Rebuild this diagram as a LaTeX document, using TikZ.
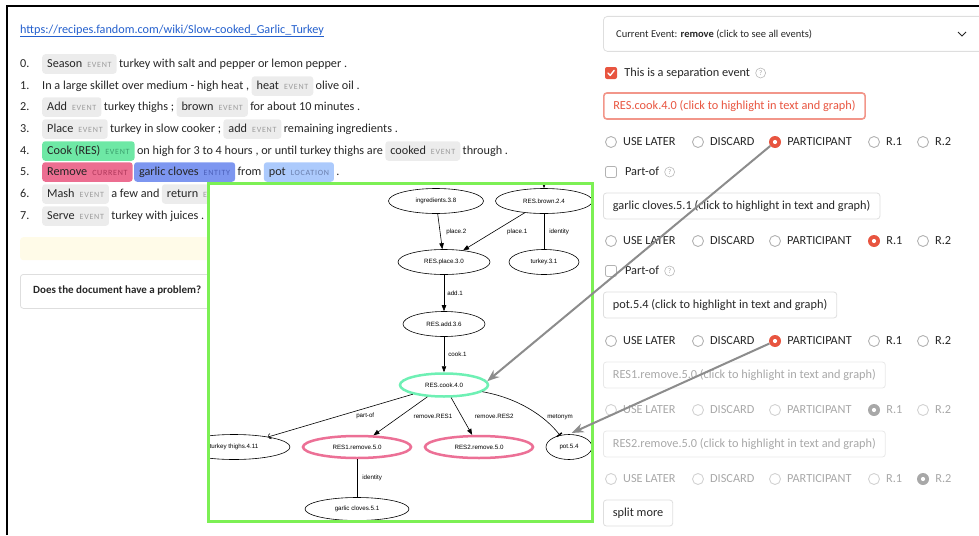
\documentclass[tikz,border=0pt]{standalone}
\usepackage{fontspec}
\setmainfont{Carlito}
\newfontfamily\graphfont{Liberation Sans}
\newfontfamily\tagfont[LetterSpace=9]{Carlito}
\usepackage{tikz}
\usetikzlibrary{shapes.geometric,arrows.meta,positioning}
\definecolor{TextDark}{RGB}{38,38,38}
\definecolor{LinkBlue}{RGB}{35,95,205}
\definecolor{ChipGray}{RGB}{236,236,236}
\definecolor{TagGray}{RGB}{155,155,155}
\definecolor{CookGreen}{RGB}{110,232,165}
\definecolor{TagGreen}{RGB}{60,160,110}
\definecolor{RemovePink}{RGB}{236,110,145}
\definecolor{TagPink}{RGB}{175,55,90}
\definecolor{EntityBlue}{RGB}{125,150,240}
\definecolor{TagBlue}{RGB}{75,95,185}
\definecolor{LocBlue}{RGB}{172,202,252}
\definecolor{TagLoc}{RGB}{105,125,170}
\definecolor{NoteYellow}{RGB}{255,251,232}
\definecolor{FrameGreen}{RGB}{124,240,84}
\definecolor{NodeGreen}{RGB}{110,240,180}
\definecolor{NodePink}{RGB}{236,112,150}
\definecolor{UiRed}{RGB}{232,85,64}
\definecolor{BoxSalmon}{RGB}{242,150,138}
\definecolor{PointerGray}{RGB}{140,140,140}
\definecolor{BorderGray}{RGB}{222,222,222}
\definecolor{FadeGray}{RGB}{168,168,168}
\newcommand{\wtag}[3][TagGray]{#2\hspace{5pt}{\tagfont\fontsize{8}{8}\selectfont\color{#1}#3}}
\newcommand{\uifont}{\fontsize{12.3}{15}\selectfont}

\begin{document}
\begin{tikzpicture}[
    x=1pt, y=-1pt,
    font=\fontsize{12.2}{15}\selectfont,
    num/.style={anchor=west, inner sep=0pt, text height=9.5pt, text depth=3pt, text=TextDark},
    txt/.style={inner xsep=0pt, inner ysep=3.5pt, text height=9.5pt, text depth=3pt, text=TextDark},
    tok/.style={fill=#1, rounded corners=3pt, inner xsep=5pt, inner ysep=3.5pt, text height=9.5pt, text depth=3pt, text=TextDark},
    tok/.default=ChipGray,
    panel/.style={rounded corners=3pt, minimum width=570pt, inner sep=0pt, anchor=north west},
    gnode/.style={ellipse, draw=black, line width=0.6pt, inner sep=0pt, minimum height=25pt, minimum width=#1, font=\graphfont\fontsize{6.2}{7}\selectfont},
    gedge/.style={draw=black, line width=0.6pt, -{Triangle[length=6pt,width=4.5pt]}},
    gline/.style={draw=black, line width=0.6pt},
    elabel/.style={font=\graphfont\fontsize{6.2}{7}\selectfont, inner sep=1pt},
    ui/.style={inner xsep=0pt, inner ysep=2pt, text height=9.5pt, text depth=3pt, text=TextDark, font=\uifont},
    itembox/.style={draw=BorderGray, line width=0.8pt, rounded corners=3pt, minimum height=26pt, inner xsep=9.5pt, anchor=west, text height=9.5pt, text depth=3pt, text=TextDark, font=\uifont},
    checkon/.style={fill=UiRed, rounded corners=2pt, minimum size=12pt, inner sep=0pt},
    checkoff/.style={draw=gray!60, line width=0.8pt, fill=white, rounded corners=2pt, minimum size=11pt, inner sep=0pt},
    help/.style={circle, draw=gray!55, line width=0.6pt, minimum size=10pt, inner sep=0pt, text=gray!75, font=\fontsize{7}{7}\selectfont},
    radio/.style={circle, draw=#1, line width=0.9pt, fill=white, minimum size=11pt, inner sep=0pt},
    radiosel/.style={circle, fill=#1, minimum size=12pt, inner sep=0pt, path picture={\fill[white] (path picture bounding box.center) circle (2.1pt);}},
    pointer/.style={draw=PointerGray, line width=2pt, -{Stealth[length=12pt,width=9pt]}}
]
\useasboundingbox (0,0) rectangle (979,535);
\draw[line width=1.2pt] (7,535) -- (7,6) -- (979,6);

% document text
\node[anchor=west, inner sep=0pt, text=LinkBlue] (url) at (20,31) {\underline{https://recipes.fandom.com/wiki/Slow-cooked\_Garlic\_Turkey}};

\node[num] (n0) at (20,64) {0.};
\node[tok, anchor=west] (s0a) at (42,64) {\wtag{Season}{EVENT}};
\node[txt, right=2pt of s0a] (s0b) {turkey with salt and pepper or lemon pepper .};

\node[num] (n1) at (20,86) {1.};
\node[txt, anchor=west] (s1a) at (42,86) {In a large skillet over medium - high heat ,};
\node[tok, right=2pt of s1a] (s1b) {\wtag{heat}{EVENT}};
\node[txt, right=2pt of s1b] (s1c) {olive oil .};

\node[num] (n2) at (20,107) {2.};
\node[tok, anchor=west] (s2a) at (42,107) {\wtag{Add}{EVENT}};
\node[txt, right=2pt of s2a] (s2b) {turkey thighs ;};
\node[tok, right=2pt of s2b] (s2c) {\wtag{brown}{EVENT}};
\node[txt, right=2pt of s2c] (s2d) {for about 10 minutes .};

\node[num] (n3) at (20,129) {3.};
\node[tok, anchor=west] (s3a) at (42,129) {\wtag{Place}{EVENT}};
\node[txt, right=2pt of s3a] (s3b) {turkey in slow cooker ;};
\node[tok, right=2pt of s3b] (s3c) {\wtag{add}{EVENT}};
\node[txt, right=2pt of s3c] (s3d) {remaining ingredients .};

\node[num] (n4) at (20,151) {4.};
\node[tok=CookGreen, anchor=west] (s4a) at (42,151) {\wtag[TagGreen]{Cook (RES)}{EVENT}};
\node[txt, right=2pt of s4a] (s4b) {on high for 3 to 4 hours , or until turkey thighs are};
\node[tok, right=2pt of s4b] (s4c) {\wtag{cooked}{EVENT}};
\node[txt, right=2pt of s4c] (s4d) {through .};

\node[num] (n5) at (20,172) {5.};
\node[tok=RemovePink, anchor=west] (s5a) at (42,172) {\wtag[TagPink]{Remove}{CURRENT}};
\node[tok=EntityBlue, right=1pt of s5a] (s5b) {\wtag[TagBlue]{garlic cloves}{ENTITY}};
\node[txt, right=2pt of s5b] (s5c) {from};
\node[tok=LocBlue, right=2pt of s5c] (s5d) {\wtag[TagLoc]{pot}{LOCATION}};
\node[txt, right=2pt of s5d] (s5e) {.};

\node[num] (n6) at (20,194) {6.};
\node[tok, anchor=west] (s6a) at (42,194) {\wtag{Mash}{EVENT}};
\node[txt, right=2pt of s6a] (s6b) {a few and};
\node[tok, right=2pt of s6b] (s6c) {\wtag{return}{EVENT}};

\node[num] (n7) at (20,216) {7.};
\node[tok, anchor=west] (s7a) at (42,216) {\wtag{Serve}{EVENT}};
\node[txt, right=2pt of s7a] (s7b) {turkey with juices .};

\node[panel, fill=NoteYellow, minimum height=23pt] (note) at (20,237) {};
\node[panel, draw=BorderGray, line width=0.8pt, minimum height=34pt] (problem) at (20,274) {};
\node[anchor=west, inner sep=0pt, text=TextDark, font=\bfseries\fontsize{11}{14}\selectfont] (problemtext) at (33,291) {Does the document have a problem?};

% graph window
\fill[white] (208,183) rectangle (592,521);
\begin{scope}
    \clip (208,183) rectangle (592,521);
    \node[gnode=95pt] (ingr) at (436,201) {ingredients.3.8};
    \node[gnode=97pt] (brown) at (544,201) {RES.brown.2.4};
    \node[gnode=92pt] (place) at (444,262) {RES.place.3.0};
    \node[gnode=70pt] (turkey) at (544,262) {turkey.3.1};
    \node[gnode=82pt] (add) at (444,324) {RES.add.3.6};
    \node[gnode=88pt, draw=NodeGreen, line width=2.5pt, minimum height=23pt] (cook) at (444,385) {RES.cook.4.0};
    \node[gnode=112pt] (thighs) at (234,447) {turkey thighs.4.11};
    \node[gnode=108pt, draw=NodePink, line width=2.5pt, minimum height=22pt] (res1) at (357,447) {RES1.remove.5.0};
    \node[gnode=108pt, draw=NodePink, line width=2.5pt, minimum height=22pt] (res2) at (479,447) {RES2.remove.5.0};
    \node[gnode=46pt] (pot) at (569,447) {pot.5.4};
    \node[gnode=104pt, minimum height=23pt] (garlic) at (357,509) {garlic cloves.5.1};
    \coordinate (brownin) at (544,168);

    \draw[gedge] (brownin) -- (brown);
    \draw[gedge] (ingr) -- node[elabel, right=5pt] {place.2} (place);
    \draw[gedge] (brown) -- node[elabel, right=12pt] {place.1} (place);
    \draw[gline] (brown) -- node[elabel, right=4pt] {identity} (turkey);
    \draw[gedge] (place) -- node[elabel, right=2pt] {add.1} (add);
    \draw[gedge] (add) -- node[elabel, right=3pt] {cook.1} (cook);
    \draw[gline, -{Arc Barb[length=2.5pt,width=6pt]}] (cook) -- node[elabel, pos=0.4, anchor=north west] {part-of} (thighs);
    \draw[gedge] (cook) -- node[elabel, right=12pt] {remove.RES1} (res1);
    \draw[gedge] (cook) -- node[elabel, right=12pt] {remove.RES2} (res2);
    \draw[gline, -{Bar[width=6pt,line width=1.4pt]}] (cook) .. controls (518,398) and (545,416) .. (pot) node[elabel, anchor=west] at (546,417) {metonym};
    \draw[gline] (res1) -- node[elabel, right=4pt] {identity} (garlic);
\end{scope}
\draw[FrameGreen, line width=3pt] (208,183) rectangle (592,521);

% annotation panel
\node[draw=BorderGray, line width=0.8pt, rounded corners=4pt, minimum width=390pt, minimum height=35pt, inner sep=0pt, anchor=north west] (evmenu) at (603,16) {};
\node[anchor=west, inner sep=0pt, text=TextDark, font=\fontsize{10.5}{12}\selectfont] (evtext) at (616,34) {Current Event: \textbf{remove} (click to see all events)};
\draw[TextDark, line width=0.9pt] (958,32) -- (962,36) -- (966,32);

\node[checkon] (sepbox) at (611,73) {};
\draw[white, line width=1.4pt, line cap=round, line join=round] ([xshift=-3pt]sepbox.center) -- ++(2.2,2.4) -- ++(4,-5);
\node[ui, right=7pt of sepbox] (septext) {This is a separation event};
\node[help, right=5pt of septext] (sephelp) {?};

\node[itembox, draw=BoxSalmon, line width=1.6pt, text=UiRed] (cookbox) at (603,106) {RES.cook.4.0 (click to highlight in text and graph)};

\foreach \ry/\sel/\rcol/\tcol/\bcol in {142/3/UiRed/TextDark/gray!60, 241/4/UiRed/TextDark/gray!60, 341/3/UiRed/TextDark/gray!60, 410/4/FadeGray/FadeGray/gray!35, 479/5/FadeGray/FadeGray/gray!35}{
    \foreach \rx/\opt [count=\i] in {611/USE LATER, 698/DISCARD, 775/PARTICIPANT, 874/R.1, 923/R.2}{
        \ifnum\i=\sel
            \node[radiosel=\rcol] (r\ry-\i) at (\rx,\ry) {};
        \else
            \node[radio=\bcol] (r\ry-\i) at (\rx,\ry) {};
        \fi
        \node[ui, text=\tcol, right=6pt of r\ry-\i] (o\ry-\i) {\opt};
    }
}

\node[checkoff] (po1) at (611,172) {};
\node[ui, right=8pt of po1] (po1text) {Part-of};
\node[help, right=5pt of po1text] (po1help) {?};
\node[itembox] (garlicbox) at (603,206) {garlic cloves.5.1 (click to highlight in text and graph)};

\node[checkoff] (po2) at (611,271) {};
\node[ui, right=8pt of po2] (po2text) {Part-of};
\node[help, right=5pt of po2text] (po2help) {?};
\node[itembox] (potbox) at (603,305) {pot.5.4 (click to highlight in text and graph)};

\node[itembox, draw=BorderGray!70, text=FadeGray] (res1box) at (603,375) {RES1.remove.5.0 (click to highlight in text and graph)};
\node[itembox, draw=BorderGray!70, text=FadeGray] (res2box) at (603,444) {RES2.remove.5.0 (click to highlight in text and graph)};
\node[itembox] (splitbtn) at (603,513) {split more};

% links from choices to graph
\draw[pointer] (r142-3) -- (cook.5);
\draw[pointer, shorten >=3pt] (r341-3) -- (pot.north);
\end{tikzpicture}
\end{document}
